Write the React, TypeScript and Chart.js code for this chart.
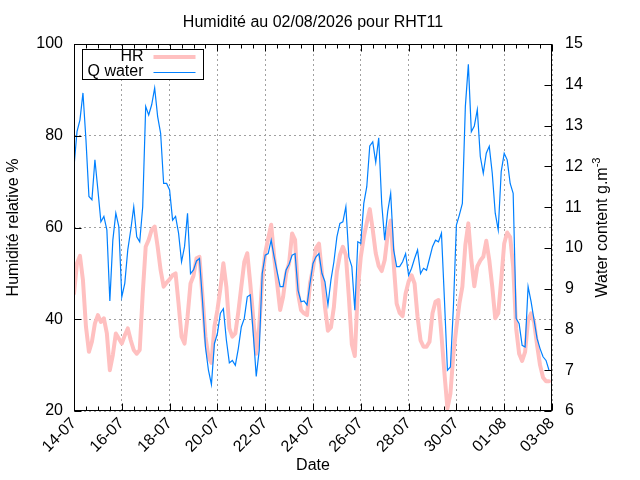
import React, { useEffect, useRef } from 'react';
import { Chart, registerables } from 'chart.js';

Chart.register(...registerables);

// readings every 3 hours from 14-07 00:00
const STEP_HOURS = 3;

const hrValues = [
  45.6, 52.2, 53.8, 48.5, 38.4, 32.9, 35.1, 39.1, 40.9, 39.4,
  40.2, 36.9, 28.9, 32.2, 36.9, 35.8, 34.7, 36.5, 38.0, 35.4,
  33.3, 32.5, 33.3, 45.6, 55.8, 57.3, 59.5, 60.2, 55.8, 50.7,
  47.1, 48.0, 48.7, 49.6, 50.0, 43.4, 36.2, 34.7, 40.5, 47.8,
  49.5, 53.3, 53.6, 44.9, 36.2, 31.8, 30.5, 38.4, 42.0, 46.7,
  52.2, 47.1, 38.0, 36.2, 36.9, 41.6, 47.1, 52.5, 54.4, 47.8,
  40.2, 32.5, 38.4, 48.5, 54.4, 57.6, 60.6, 53.6, 47.8, 42.0,
  44.9, 50.0, 52.2, 58.7, 57.3, 45.6, 42.0, 41.3, 40.9, 47.8,
  51.1, 55.5, 56.5, 50.0, 42.7, 37.5, 38.2, 42.7, 50.4, 54.0,
  55.8, 54.0, 44.9, 34.5, 32.0, 46.4, 53.6, 57.9, 61.0, 64.0,
  59.5, 54.4, 51.6, 50.5, 52.9, 58.4, 61.5, 52.2, 43.4, 41.4,
  40.7, 45.6, 48.2, 49.6, 47.8, 40.5, 35.4, 34.0, 34.0, 35.1,
  41.3, 43.8, 44.2, 36.5, 28.2, 20.5, 23.8, 32.5, 38.2, 43.4,
  47.1, 56.2, 60.9, 52.9, 47.2, 51.5, 52.8, 53.6, 57.1, 52.9,
  47.1, 40.2, 41.3, 48.5, 56.5, 58.9, 57.9, 51.5, 38.0, 32.5,
  30.9, 32.9, 39.8, 41.3, 39.4, 34.4, 30.0, 27.3, 26.5, 26.5,
];

const waterValues = [
  11.99, 12.85, 13.14, 13.8, 12.65, 11.26, 11.18, 12.16, 11.42, 10.64,
  10.77, 10.44, 8.7, 10.19, 10.85, 10.52, 8.8, 9.13, 9.95, 10.44,
  11.01, 10.27, 10.15, 11.01, 13.47, 13.26, 13.51, 13.92, 13.22, 12.81,
  11.58, 11.58, 11.42, 10.68, 10.77, 10.36, 9.66, 10.03, 10.85, 9.37,
  9.46, 9.68, 9.74, 8.72, 7.57, 7.0, 6.65, 7.65, 7.9, 8.4,
  8.51, 7.74, 7.18, 7.24, 7.12, 7.53, 8.06, 8.27, 8.8, 8.85,
  7.9, 6.85, 7.49, 9.37, 9.82, 9.86, 10.19, 9.78, 9.41, 9.05,
  9.05, 9.46, 9.6, 9.82, 9.86, 8.96, 8.68, 8.7, 8.6, 9.13,
  9.62, 9.78, 9.86, 9.37, 9.17, 8.6, 9.21, 9.66, 10.27, 10.6,
  10.64, 11.01, 9.78, 9.54, 8.47, 10.15, 10.11, 11.09, 11.5, 12.5,
  12.6, 12.1, 12.7, 11.09, 10.19, 10.89, 11.34, 9.95, 9.54, 9.54,
  9.66, 9.86, 9.33, 9.5, 9.74, 9.95, 9.37, 9.5, 9.45, 9.74,
  10.03, 10.19, 10.15, 10.36, 8.72, 7.0, 7.08, 8.55, 10.56, 10.81,
  11.09, 13.47, 14.5, 12.85, 12.99, 13.39, 12.24, 11.83, 12.32, 12.49,
  11.83, 10.85, 10.44, 11.87, 12.32, 12.16, 11.58, 11.34, 8.27, 8.14,
  7.61, 7.57, 9.05, 8.68, 8.23, 7.78, 7.53, 7.33, 7.24, 7.0,
];

const dateLabels = ['14-07', '16-07', '18-07', '20-07', '22-07', '24-07', '26-07', '28-07', '30-07', '01-08', '03-08'];
const dateTickDays = [0, 2, 4, 6, 8, 10, 12, 14, 16, 18, 20];
const hrTicks = [20, 40, 60, 80, 100];
const waterTicks = [6, 7, 8, 9, 10, 11, 12, 13, 14, 15];

const TITLE = 'Humidité au 02/08/2026 pour RHT11';
const HR_COLOR = 'rgb(255,192,192)';
const WATER_COLOR = 'rgb(0,128,255)';
const GRID_COLOR = '#a0a0a0';
const FONT = 'Liberation Sans, Arial, sans-serif';

const isMajor = (v: number) => dateTickDays.includes(v);

const framePlugin = {
  id: 'gnuFrame',
  afterDatasetsDraw(chart: any) {
    const { ctx, chartArea: a, scales } = chart;
    const L = Math.round(a.left) + 0.5;
    const R = Math.round(a.right) - 0.5;
    const T = Math.round(a.top) + 0.5;
    const B = Math.round(a.bottom) - 0.5;
    ctx.save();
    ctx.strokeStyle = '#000';
    ctx.lineWidth = 1;
    ctx.beginPath();
    // x ticks, inward, top and bottom
    scales.x.ticks.forEach((t: any) => {
      const px = Math.round(scales.x.getPixelForValue(t.value)) + 0.5;
      const len = isMajor(t.value) ? 7 : 4;
      ctx.moveTo(px, B); ctx.lineTo(px, B - len);
      ctx.moveTo(px, T); ctx.lineTo(px, T + len);
    });
    scales.y.ticks.forEach((t: any) => {
      const py = Math.round(scales.y.getPixelForValue(t.value)) + 0.5;
      ctx.moveTo(L, py); ctx.lineTo(L + 7, py);
    });
    scales.y1.ticks.forEach((t: any) => {
      const py = Math.round(scales.y1.getPixelForValue(t.value)) + 0.5;
      ctx.moveTo(R, py); ctx.lineTo(R - 7, py);
    });
    ctx.stroke();
    ctx.strokeRect(L, T, R - L, B - T);

    // legend
    const lx = L + 8, ly = T + 5, lw = 121, lh = 30;
    ctx.fillStyle = '#fff';
    ctx.fillRect(lx, ly, lw, lh);
    ctx.strokeRect(lx, ly, lw, lh);
    ctx.font = `16px ${FONT}`;
    ctx.textAlign = 'right';
    ctx.textBaseline = 'alphabetic';
    chart.data.datasets.forEach((ds: any, i: number) => {
      const base = ly + 11 + i * 15.5;
      ctx.fillStyle = '#000';
      ctx.fillText(ds.label, lx + 61, base);
      ctx.strokeStyle = ds.borderColor;
      ctx.lineWidth = ds.borderWidth;
      ctx.beginPath();
      ctx.moveTo(lx + 71, base - 3.5);
      ctx.lineTo(lx + 113, base - 3.5);
      ctx.stroke();
    });

    // titles
    const cx = (a.left + a.right) / 2;
    const cy = (a.top + a.bottom) / 2;
    ctx.fillStyle = '#000';
    ctx.textAlign = 'center';
    ctx.font = `16px ${FONT}`;
    ctx.fillText(TITLE, cx, 27);
    ctx.textBaseline = 'middle';
    ctx.fillText('Date', cx, 466);

    ctx.save();
    ctx.translate(14, cy);
    ctx.rotate(-Math.PI / 2);
    ctx.fillText('Humidité relative %', 0, 0);
    ctx.restore();

    ctx.save();
    ctx.translate(603, cy);
    ctx.rotate(-Math.PI / 2);
    const main = 'Water content g.m';
    const sup = '-3';
    ctx.font = `16px ${FONT}`;
    const w1 = ctx.measureText(main).width;
    ctx.font = `11px ${FONT}`;
    const w2 = ctx.measureText(sup).width;
    const start = -(w1 + w2) / 2;
    ctx.textAlign = 'left';
    ctx.font = `16px ${FONT}`;
    ctx.fillText(main, start, 0);
    ctx.font = `11px ${FONT}`;
    ctx.fillText(sup, start + w1, -6);
    ctx.restore();

    ctx.restore();
  },
};

export default function App() {
  const canvasRef = useRef<HTMLCanvasElement | null>(null);

  useEffect(() => {
    const ctx = canvasRef.current?.getContext('2d');
    if (!ctx) return;

    const days = hrValues.map((_, i) => (i * STEP_HOURS) / 24);
    const tickFont = { family: FONT, size: 16 };

    const chart = new Chart(ctx, {
      type: 'line',
      data: {
        datasets: [
          {
            label: 'HR',
            data: hrValues.map((v, i) => ({ x: days[i], y: v })),
            borderColor: HR_COLOR,
            borderWidth: 4,
            borderJoinStyle: 'round',
            borderCapStyle: 'round',
            pointRadius: 0,
            tension: 0,
            yAxisID: 'y',
            order: 2,
          },
          {
            label: 'Q water',
            data: waterValues.map((v, i) => ({ x: days[i], y: v })),
            borderColor: WATER_COLOR,
            borderWidth: 1.2,
            pointRadius: 0,
            tension: 0,
            yAxisID: 'y1',
            order: 1,
          },
        ],
      },
      options: {
        animation: false,
        responsive: false,
        devicePixelRatio: 1,
        layout: { padding: { top: 44, left: 0, right: 0, bottom: 0 } },
        plugins: {
          legend: { display: false },
          title: { display: false },
          tooltip: { enabled: false },
        },
        scales: {
          x: {
            type: 'linear',
            min: 0,
            max: 20,
            afterBuildTicks: (s: any) => {
              const t = [];
              for (let d = 0; d <= 20; d += 0.5) t.push({ value: d });
              s.ticks = t;
            },
            afterFit: (s: any) => { s.height = 69; },
            ticks: {
              autoSkip: false,
              minRotation: 45,
              maxRotation: 45,
              padding: 3,
              color: '#000',
              font: tickFont,
              callback: (v: any) => {
                const idx = dateTickDays.indexOf(Number(v));
                return idx >= 0 ? dateLabels[idx] : '';
              },
            },
            grid: {
              drawTicks: false,
              lineWidth: 1,
              color: (c: any) => (c.tick && isMajor(c.tick.value) ? GRID_COLOR : 'rgba(0,0,0,0)'),
            },
            border: { display: false, dash: [2, 3] },
          },
          y: {
            position: 'left',
            min: 20,
            max: 100,
            afterBuildTicks: (s: any) => { s.ticks = hrTicks.map((v) => ({ value: v })); },
            afterFit: (s: any) => { s.width = 74; },
            ticks: { color: '#000', font: tickFont, padding: 11 },
            grid: { drawTicks: false, color: GRID_COLOR, lineWidth: 1 },
            border: { display: false, dash: [2, 3] },
          },
          y1: {
            position: 'right',
            min: 6,
            max: 15,
            afterBuildTicks: (s: any) => { s.ticks = waterTicks.map((v) => ({ value: v })); },
            afterFit: (s: any) => { s.width = 88; },
            ticks: { color: '#000', font: tickFont, padding: 13 },
            grid: { drawTicks: false, drawOnChartArea: false },
            border: { display: false },
          },
        },
      },
      plugins: [framePlugin],
    });

    return () => chart.destroy();
  }, []);

  return (
    <div style={{ position: 'absolute', left: 0, top: 0, width: 640, height: 480, background: '#fff' }}>
      <canvas ref={canvasRef} width={640} height={480} style={{ display: 'block', width: 640, height: 480 }} />
    </div>
  );
}
